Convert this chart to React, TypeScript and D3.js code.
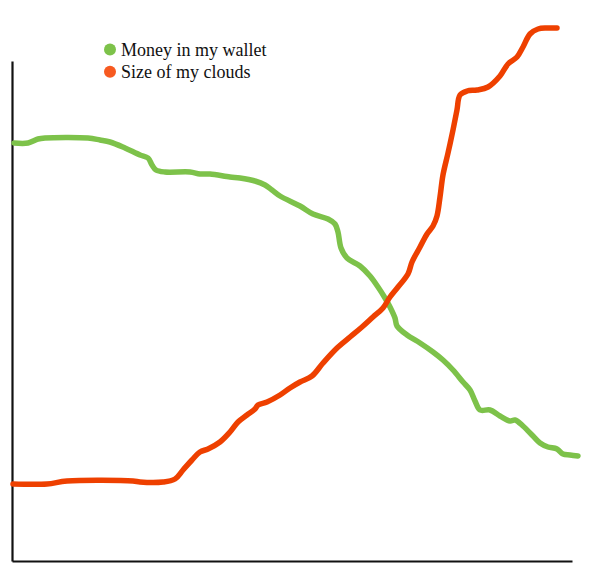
import React, { useEffect, useRef } from "react";
import * as d3 from "d3";

const seriesNames = ["Money in my wallet", "Size of my clouds"];
const seriesColors = ["#7dc24a", "#ee4000"];
const legendDotColors = ["#7dc24a", "#f75a20"];

const walletX = [0.36, 2.86, 4.64, 5.89, 13.57, 15.71, 17.5, 20.18, 22.86, 24.29, 25.0, 25.71, 27.32, 31.79, 33.57, 35.36, 38.93, 40.71, 43.39, 45.18, 46.43, 47.86, 51.43, 53.75, 56.43, 57.68, 58.21, 58.75, 59.82, 62.14, 63.93, 65.36, 66.61, 67.5, 68.39, 68.75, 70.54, 72.86, 75.18, 76.96, 78.75, 80.54, 81.79, 82.68, 83.57, 85.36, 87.14, 88.93, 89.82, 91.25, 93.04, 94.29, 95.71, 97.32, 98.39, 99.64, 101.07];
const walletY = [83.6, 83.6, 84.4, 84.6, 84.6, 84.2, 83.8, 82.6, 81.2, 80.6, 79.2, 78.2, 77.8, 77.8, 77.4, 77.4, 76.8, 76.6, 76.0, 75.2, 74.2, 73.0, 71.0, 69.4, 68.4, 67.4, 65.8, 62.6, 60.6, 59.0, 57.0, 54.8, 52.6, 50.8, 48.6, 47.0, 45.2, 43.6, 41.8, 40.2, 38.2, 35.8, 34.2, 32.0, 30.2, 30.2, 29.0, 28.0, 28.2, 27.0, 25.0, 23.6, 22.8, 22.4, 21.4, 21.2, 21.0];

const cloudsX = [0.18, 6.25, 9.82, 21.61, 22.86, 26.96, 29.11, 30.54, 32.14, 33.57, 35.0, 37.14, 38.93, 40.36, 41.96, 43.39, 43.93, 45.54, 47.86, 49.64, 51.43, 53.57, 55.54, 58.04, 60.36, 62.5, 64.46, 66.25, 67.5, 68.93, 70.71, 71.43, 72.86, 74.11, 75.18, 75.89, 76.43, 76.96, 77.86, 78.75, 79.46, 80.0, 81.25, 83.04, 85.0, 87.14, 88.57, 90.18, 91.25, 92.5, 93.93, 95.54, 97.32];
const cloudsY = [15.4, 15.4, 16.0, 16.0, 15.8, 15.8, 16.4, 18.2, 20.2, 21.8, 22.4, 23.8, 25.8, 27.8, 29.2, 30.4, 31.2, 31.8, 33.2, 34.6, 35.8, 37.0, 39.6, 42.6, 44.8, 46.8, 48.8, 50.6, 52.8, 54.8, 57.4, 59.8, 62.8, 65.4, 67.0, 69.0, 72.8, 77.2, 81.6, 86.2, 90.2, 93.2, 94.0, 94.2, 94.8, 97.0, 99.4, 100.8, 102.8, 105.4, 106.4, 106.6, 106.6];

const W = 600;
const H = 575;

export default function App() {
  const ref = useRef<SVGSVGElement | null>(null);

  useEffect(() => {
    const svg = d3.select(ref.current);
    svg.selectAll("*").remove();

    const x = d3.scaleLinear().domain([0, 100]).range([12, 572]);
    const y = d3.scaleLinear().domain([0, 100]).range([561, 61]);

    const series = [
      walletX.map((v, i) => [v, walletY[i]] as [number, number]),
      cloudsX.map((v, i) => [v, cloudsY[i]] as [number, number]),
    ];

    const line = d3
      .line<[number, number]>()
      .x((d) => x(d[0]))
      .y((d) => y(d[1]))
      .curve(d3.curveCatmullRom.alpha(0.5));

    // axes
    const yAxis = d3.axisLeft(y).ticks(0).tickSize(0).tickSizeOuter(0);
    const xAxis = d3.axisBottom(x).ticks(0).tickSize(0).tickSizeOuter(0);
    const ya = svg.append("g").attr("transform", `translate(${x(0)},0)`).call(yAxis);
    const xa = svg.append("g").attr("transform", `translate(0,${y(0)})`).call(xAxis);
    [ya, xa].forEach((g) => {
      g.select(".domain").attr("stroke", "#111").attr("stroke-width", 2.2);
      g.selectAll("text").remove();
    });

    series.forEach((s, i) => {
      svg
        .append("path")
        .datum(s)
        .attr("d", line)
        .attr("fill", "none")
        .attr("stroke", seriesColors[i])
        .attr("stroke-width", 5.5)
        .attr("stroke-linecap", "round")
        .attr("stroke-linejoin", "round");
    });

    // legend
    const lg = svg.append("g");
    seriesNames.forEach((name, i) => {
      const cy = 49.5 + i * 22.2;
      lg.append("circle").attr("cx", 110).attr("cy", cy).attr("r", 6).attr("fill", legendDotColors[i]);
      lg.append("text")
        .attr("x", 121)
        .attr("y", cy + 6.5)
        .attr("font-family", "'Liberation Serif', 'Times New Roman', serif")
        .attr("font-size", 18)
        .attr("fill", "#111")
        .text(name);
    });
  }, []);

  return (
    <svg
      ref={ref}
      width={W}
      height={H}
      style={{ position: "absolute", left: 0, top: 0, background: "#fff" }}
    />
  );
}
